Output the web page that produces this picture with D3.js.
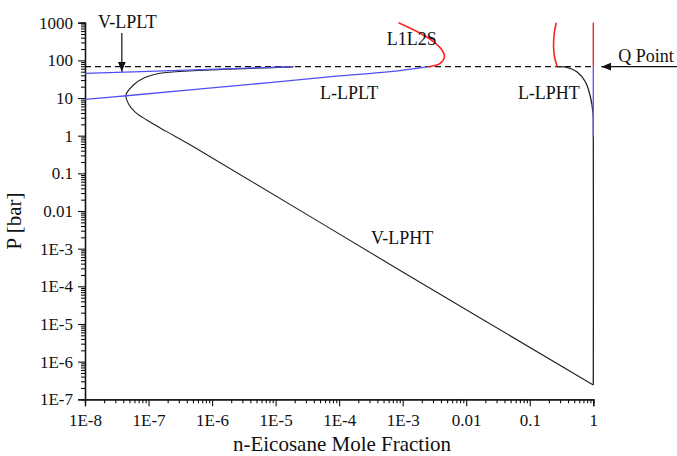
<!DOCTYPE html>
<html>
<head>
<meta charset="utf-8">
<script src="https://cdn.jsdelivr.net/npm/d3@7"></script>
<style>
  body { margin: 0; background: #fff; }
  svg text { font-family: "Liberation Serif", "Times New Roman", Times, "DejaVu Serif", serif; }
</style>
</head>
<body>
<svg id="chart"></svg>
<script>
const width = 677;
const height = 456;

// curves, [mole fraction, pressure bar]
const vlplt = [[1e-8, 45.3], [5.1e-7, 56], [1.9e-5, 68]];
const llplt = [[1e-8, 9.2], [4.5e-8, 11.5], [2.2e-6, 21], [1e-4, 38.5], [6.4e-4, 50], [2.55e-3, 68]];
const vlpht = [[1.9e-5, 67], [5.1e-7, 53], [1.52e-7, 45.3], [8.3e-8, 33.4], [5.8e-8, 22.2],
    [4.4e-8, 12], [4.8e-8, 7.2], [6.1e-8, 4.3], [9.4e-8, 2.6], [1.94e-7, 1.28], [5.1e-7, 0.51],
    [1e-3, 2.4e-4], [1, 2.4e-7]];
const llpht = [[1, 2.4e-7], [1, 1.5], [0.99, 3.9], [0.9, 10.8], [0.75, 27], [0.55, 50], [0.385, 65.5], [0.27, 68]];
const l1l2sRight = [[0.27, 68], [0.245, 125], [0.237, 231], [0.243, 525], [0.261, 1000]];
const l1l2sLeft = [[2.55e-3, 68], [3.9e-3, 83.6], [4.55e-3, 125], [4.14e-3, 188], [3.05e-3, 313], [1.89e-3, 524], [8.6e-4, 1000]];
const pureRed = [[1, 68], [1, 1000]];
const pureBlue = [[1, 0.94], [1, 68]];
const qPressure = 68;

const xTicks = [1e-8, 1e-7, 1e-6, 1e-5, 1e-4, 1e-3, 0.01, 0.1, 1];
const xTickLabels = ["1E-8", "1E-7", "1E-6", "1E-5", "1E-4", "1E-3", "0.01", "0.1", "1"];
const yTicks = [1e-7, 1e-6, 1e-5, 1e-4, 1e-3, 0.01, 0.1, 1, 10, 100, 1000];
const yTickLabels = ["1E-7", "1E-6", "1E-5", "1E-4", "1E-3", "0.01", "0.1", "1", "10", "100", "1000"];

const labels = [
    { text: "V-LPLT", x: 1.6e-8, y: 720 },
    { text: "L1L2S", x: 5.6e-4, y: 256 },
    { text: "L-LPLT", x: 5.0e-5, y: 9.4 },
    { text: "L-LPHT", x: 0.065, y: 9.4 },
    { text: "V-LPHT", x: 3.16e-4, y: 1.33e-3 },
    { text: "Q Point", x: 2.48, y: 90 }
];

const svg = d3.select("#chart").attr("width", width).attr("height", height);

const x = d3.scaleLog().domain([1e-8, 1]).range([85, 593.3]);
const y = d3.scaleLog().domain([1e-7, 1000]).range([399.3, 22.7]);

function minors(lo, hi) {
    const out = [];
    for (let e = lo; e < hi; e++)
        for (let m = 2; m <= 9; m++) out.push(m * Math.pow(10, e));
    return out;
}

// axes: minor ticks first, then major ticks with labels
const gx = svg.append("g").attr("transform", `translate(0,${y(1e-7)})`);
gx.append("g").call(d3.axisBottom(x).tickValues(minors(-8, 0)).tickSize(4).tickFormat(""));
gx.append("g").call(d3.axisBottom(x).tickValues(xTicks).tickSize(7).tickPadding(8)
    .tickFormat((d, i) => xTickLabels[i]));

const gy = svg.append("g").attr("transform", `translate(${x(1e-8)},0)`);
gy.append("g").call(d3.axisLeft(y).tickValues(minors(-7, 3)).tickSize(4).tickFormat(""));
gy.append("g").call(d3.axisLeft(y).tickValues(yTicks).tickSize(7).tickPadding(5)
    .tickFormat((d, i) => yTickLabels[i]));

svg.selectAll("g").attr("font-family", null);
svg.selectAll(".domain").attr("stroke", "#111").attr("stroke-width", 1.3);
svg.selectAll(".tick line").attr("stroke", "#111").attr("stroke-width", 1.1);
svg.selectAll(".tick text").attr("font-size", 17).attr("fill", "#111");

const line = d3.line().x(d => x(d[0])).y(d => y(d[1])).curve(d3.curveCatmullRom.alpha(0.5));

// Q point dashed line
svg.append("path").datum([[1e-8, qPressure], [1, qPressure]])
    .attr("d", line).attr("fill", "none").attr("stroke", "#111")
    .attr("stroke-width", 1.1).attr("stroke-dasharray", "6,4");

const curves = [
    { data: vlpht, color: "#222", w: 1.1 },
    { data: llpht, color: "#222", w: 1.3 },
    { data: vlplt, color: "#5050f5", w: 1.3 },
    { data: llplt, color: "#5050f5", w: 1.3 },
    { data: pureBlue, color: "#6060f0", w: 1.4 },
    { data: pureRed, color: "#f22", w: 1.4 },
    { data: l1l2sLeft, color: "#f22", w: 1.6 },
    { data: l1l2sRight, color: "#f22", w: 1.6 }
];

svg.selectAll(".curve").data(curves).enter().append("path")
    .attr("class", "curve")
    .attr("d", d => line(d.data))
    .attr("fill", "none")
    .attr("stroke", d => d.color)
    .attr("stroke-width", d => d.w);

// arrows
svg.append("defs").append("marker")
    .attr("id", "arrow").attr("viewBox", "0 0 10 10").attr("refX", 10).attr("refY", 5)
    .attr("markerWidth", 10).attr("markerHeight", 10).attr("markerUnits", "userSpaceOnUse")
    .attr("orient", "auto")
    .append("path").attr("d", "M0,1 L10,5 L0,9 Z").attr("fill", "#111");

svg.append("line")
    .attr("x1", x(3.8e-8)).attr("x2", x(3.8e-8))
    .attr("y1", y(530)).attr("y2", y(50))
    .attr("stroke", "#111").attr("stroke-width", 1.2).attr("marker-end", "url(#arrow)");

svg.append("line")
    .attr("x1", width).attr("x2", x(1) + 8)
    .attr("y1", y(qPressure)).attr("y2", y(qPressure))
    .attr("stroke", "#111").attr("stroke-width", 1.2).attr("marker-end", "url(#arrow)");

svg.selectAll(".lbl").data(labels).enter().append("text")
    .attr("class", "lbl")
    .attr("x", d => x(d.x)).attr("y", d => y(d.y))
    .attr("font-size", 18).attr("fill", "#111")
    .text(d => d.text);

svg.append("text")
    .attr("x", 342).attr("y", 451)
    .attr("text-anchor", "middle").attr("font-size", 21).attr("fill", "#111")
    .text("n-Eicosane Mole Fraction");

svg.append("text")
    .attr("transform", `translate(21,221) rotate(-90)`)
    .attr("text-anchor", "middle").attr("font-size", 21).attr("fill", "#111")
    .text("P [bar]");
</script>
</body>
</html>
